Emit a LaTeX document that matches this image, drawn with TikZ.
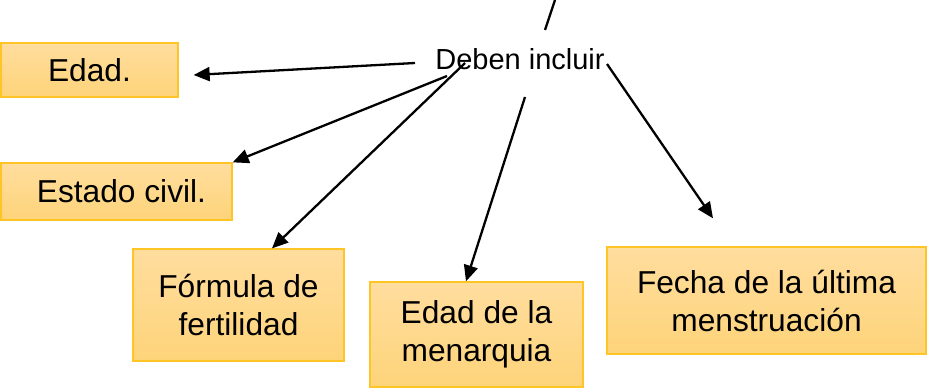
\documentclass[tikz,border=0pt]{standalone}
\usepackage{fontspec}
\setmainfont{Liberation Sans}
\usetikzlibrary{positioning, calc, arrows.meta}
\definecolor{borde}{HTML}{FFC425}
\definecolor{claro}{HTML}{FFDD9E}
\definecolor{oscuro}{HTML}{FED47A}

\begin{document}
\begin{tikzpicture}[x=1pt, y=-1pt,
		caja/.style={rectangle, draw=borde, line width=1.3pt, top color=claro, bottom color=oscuro, inner sep=0pt, align=center, font=\fontsize{31.7}{38}\selectfont},
		flecha/.style={-{Triangle[length=16pt, width=14pt]}, line width=2.3pt}]
			\useasboundingbox (0,0) rectangle (933,390);
			
			\node[caja, minimum width=177pt, minimum height=54pt] (edad) at (89.5,70) {Edad.};
			\node[caja, minimum width=231pt, minimum height=57pt] (estado) at (116.5,191.5) {\hspace{10pt}Estado civil.};
			\node[caja, minimum width=211pt, minimum height=112pt] (formula) at (238.5,305) {Fórmula de\\fertilidad};
			\node[caja, minimum width=213pt, minimum height=105pt] (menarquia) at (476.5,334.5) {Edad de la\\menarquia};
			\node[caja, minimum width=319pt, minimum height=107pt] (fecha) at (766.5,300.5) {Fecha de la última\\menstruación};
			
			\node[inner sep=0pt, font=\fontsize{29}{35}\selectfont] (incluir) at (520,59) {Deben incluir};
			\coordinate (arriba) at (555,0);
			
			\draw[line width=2.3pt] ($(incluir.center)+(25,-29)$) -- (arriba);
			\draw[flecha] ($(incluir.center)+(-105,4)$) -- ($(edad.east)+(15,5)$);
			\draw[flecha] ($(incluir.center)+(-73,17)$) -- (estado.north east);
			\draw[flecha] ($(incluir.center)+(-55,4)$) -- ($(formula.north)+(33.5,0)$);
			\draw[flecha] ($(incluir.center)+(5,38)$) -- ($(menarquia.north)+(-10.5,0)$);
			\draw[flecha] ($(incluir.center)+(87,5)$) -- ($(fecha.north)+(-53.5,-28)$);
			
\end{tikzpicture}
\end{document}
